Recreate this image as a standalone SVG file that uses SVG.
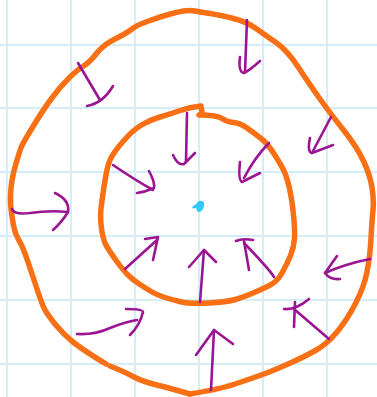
<svg xmlns="http://www.w3.org/2000/svg" width="377" height="397" viewBox="0 0 377 397">
<style>
.grid line{stroke:#d3eefa;stroke-width:2}
.ring{fill:none;stroke:#f86f14;stroke-width:5.5;stroke-linecap:round;stroke-linejoin:round}
.arr path{fill:none;stroke:#9b1593;stroke-width:2.6;stroke-linecap:round;stroke-linejoin:round}
</style>
<rect width="377" height="397" fill="#ffffff"/>
<g class="grid">
<line x1="7" y1="0" x2="7" y2="397"/><line x1="71" y1="0" x2="71" y2="397"/><line x1="135" y1="0" x2="135" y2="397"/>
<line x1="199" y1="0" x2="199" y2="397"/><line x1="263" y1="0" x2="263" y2="397"/><line x1="327" y1="0" x2="327" y2="397"/>
<line x1="0" y1="45" x2="377" y2="45"/><line x1="0" y1="108" x2="377" y2="108"/><line x1="0" y1="172" x2="377" y2="172"/>
<line x1="0" y1="236" x2="377" y2="236"/><line x1="0" y1="300" x2="377" y2="300"/><line x1="0" y1="364" x2="377" y2="364"/>
</g>
<g id="outer-circle">
<path class="ring" d="M190,394 Q220,389 233.5,384.5 Q247,380 258.5,376 Q270,372 287,364.5 Q304,357 315.5,350.5 Q327,344 337,332 Q347,320 355.5,303.5 Q364,287 367,272 Q370,257 371,238.5 Q372,220 373,210 Q374,200 372,187.5 Q370,175 363.5,161 Q357,147 343.5,130 Q330,113 320,99 Q310,85 298.5,67.5 Q287,50 276,42.5 Q265,35 256,28.5 Q247,22 233.5,18.5 Q220,15 210,13.5 Q200,12 195,11 Q190,10 183.5,11 Q177,12 168.5,14.5 Q160,17 148.5,21 Q137,25 132,29 Q127,33 115,39 Q103,45 96.5,53.5 Q90,62 83.5,66 Q77,70 68.5,78.5 Q60,87 51.5,98.5 Q43,110 33,126.5 Q23,143 21.5,146.5 Q20,150 16,163.5 Q12,177 11,188.5 Q10,200 11,208.5 Q12,217 13.5,225.5 Q15,234 19,240.5 Q23,247 28,262 Q33,277 37.5,290.5 Q42,304 44.5,309 Q47,314 55,324 Q63,334 73,342 Q83,350 106,364"/>
<path class="ring" d="M110,366 Q125,372 134,377 Q143,382 165,387 L190,394"/>
</g>
<g id="inner-circle">
<path class="ring" d="M199,115 Q217,115 222,118.5 Q227,122 233.5,122.5 Q240,123 247,128 Q254,133 260.5,138 Q267,143 273.5,153 Q280,163 283.5,170 Q287,177 289.5,188.5 Q292,200 293.5,215 Q295,230 294.5,238.5 Q294,247 290.5,255.5 Q287,264 282,273 Q277,282 268.5,286 Q260,290 252,293.5 Q244,297 235.5,299.5 Q227,302 208.5,303 Q190,304 181.5,302 Q173,300 165,297.5 Q157,295 152,292 Q147,289 140,284.5 Q133,280 128,275 Q123,270 116.5,261 Q110,252 106.5,246 Q103,240 101.5,228.5 Q100,217 101,208.5 Q102,200 104.5,183.5 Q107,167 110,160 Q113,153 123,141.5 Q133,130 141.5,125 Q150,120 158.5,117.5 Q167,115 178.5,111 Q190,107 201,106 L202,112"/>
</g>
<g id="center-dot">
<path d="M196,208 C193,209 191,208 193,206 C195,205 196,204 197,203 C198,200 203,200 204,203 C205,207 202,212 199,212 C197,212 197,210 196,208 Z" fill="#33c8fa"/>
</g>
<g id="arrows" class="arr">
<g id="a1"><path d="M78,63 L100,100"/><path d="M87,106 Q103,103 113,86"/></g>
<g id="a2"><path d="M247,20 L245,72"/><path d="M240,57 Q238,72 244,73 Q250,70 260,61"/></g>
<g id="a3"><path d="M331,117 L313,151"/><path d="M310,138 Q307,152 312,153 L333,145"/></g>
<g id="a4"><path d="M269,143 Q255,157 244,178"/><path d="M240,162 Q238,180 242,182 L260,173"/></g>
<g id="a5"><path d="M187,113 L186,162"/><path d="M173,155 Q178,166 184,164 L195,153"/></g>
<g id="a6"><path d="M113,165 Q135,180 153,190"/><path d="M149,171 Q155,182 154,188 Q145,192 137,193"/></g>
<g id="a7"><path d="M12,209 Q14,215 30,213 Q50,210 68,212"/><path d="M55,193 Q70,200 68,212 Q62,222 53,230"/></g>
<g id="a8"><path d="M125,269 L157,240"/><path d="M145,239 L158,237 L153,260"/></g>
<g id="a9"><path d="M77,334 Q95,335 110,328 Q125,322 137,320"/><path d="M126,309 Q143,309 143,312 Q140,325 130,335"/></g>
<g id="a10"><path d="M200,302 L204,250"/><path d="M189,267 L204,250 L216,262"/></g>
<g id="a11"><path d="M274,277 Q270,270 244,243"/><path d="M249,270 L244,241"/><path d="M236,241 Q242,238 253,240"/></g>
<g id="a12"><path d="M370,259 Q345,264 325,273"/><path d="M337,256 L325,273 Q330,280 340,279"/></g>
<g id="a13"><path d="M329,339 L294,309"/><path d="M294,327 L295,302"/><path d="M284,309 Q296,310 309,299"/></g>
<g id="a14"><path d="M211,390 L214,330"/><path d="M196,355 L214,330 L233,344"/></g>
</g>
</svg>
